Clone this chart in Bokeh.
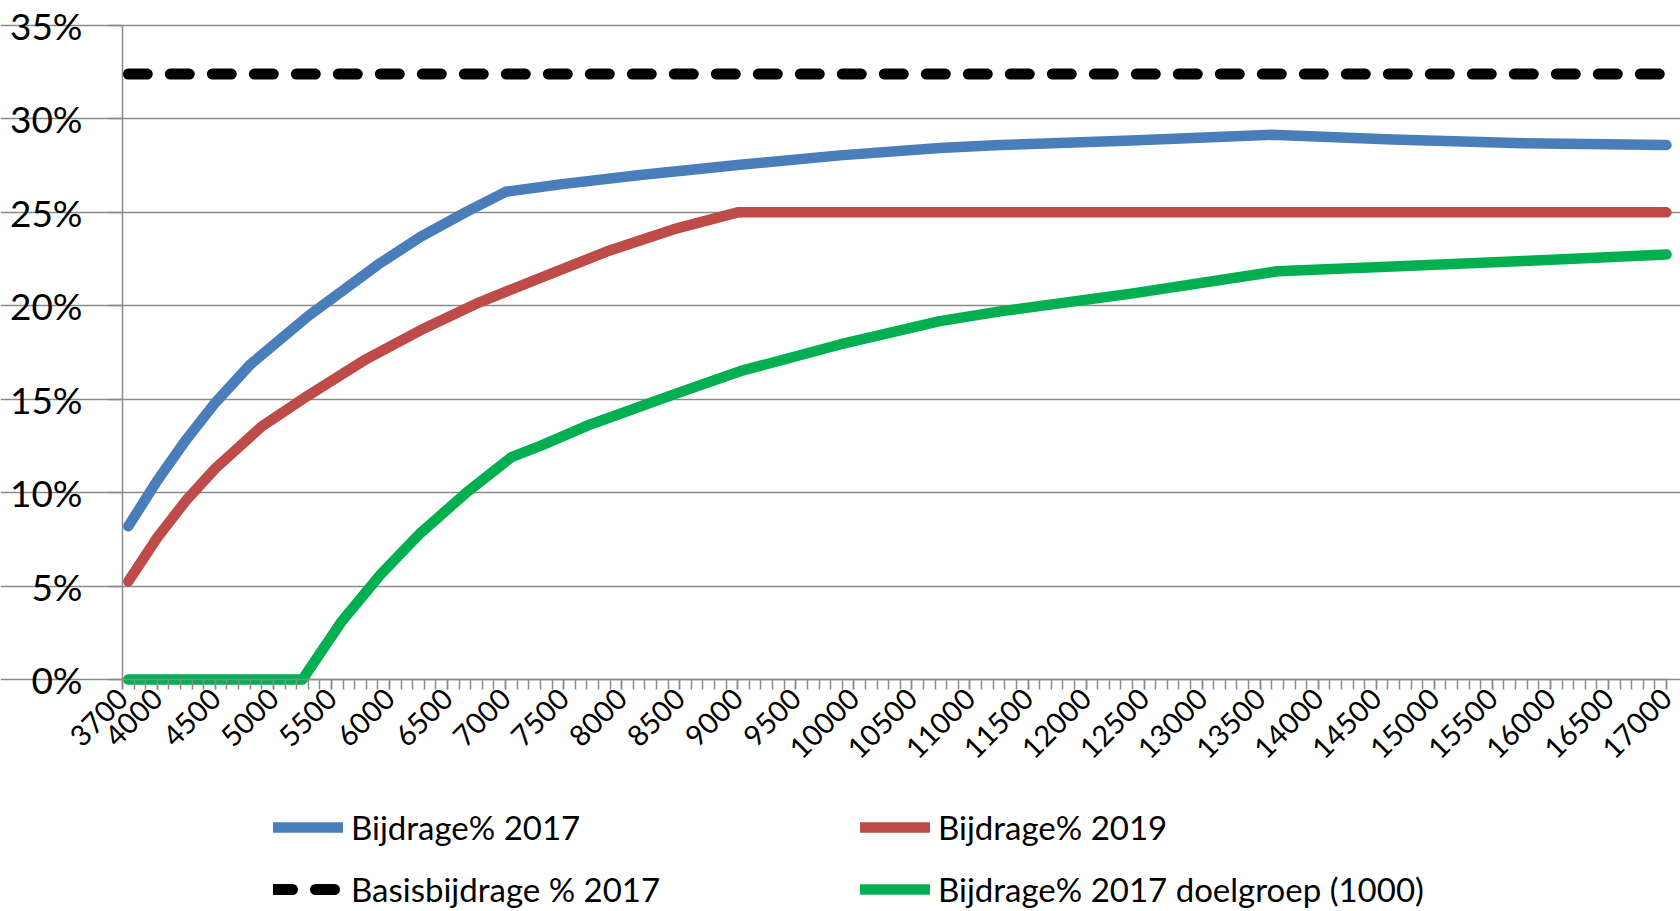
import math
from bokeh.plotting import figure
from bokeh.models import Range1d, FixedTicker, PrintfTickFormatter, Legend, LegendItem
from bokeh.embed import file_html
from bokeh.resources import INLINE

# ---- data ----
x_tick_labels = [3700] + list(range(4000, 17001, 500))
x_minor_ticks = list(range(3700, 17001, 100))
y_ticks = [0, 5, 10, 15, 20, 25, 30, 35]

x_2017 = [3750, 4000, 4250, 4500, 4800, 5300, 5900, 6270, 6670, 7000, 7470,
          8160, 9020, 9880, 10740, 11260, 12390, 13600, 14640, 15770, 17000]
y_2017 = [8.2, 10.65, 12.85, 14.82, 16.85, 19.45, 22.2, 23.7, 25.05, 26.1, 26.5,
          27.0, 27.55, 28.05, 28.45, 28.6, 28.85, 29.15, 28.9, 28.7, 28.6]

x_2019 = [3750, 4000, 4250, 4500, 4900, 5300, 5800, 6270, 6780, 7300, 7870, 8450, 9000, 17000]
y_2019 = [5.25, 7.6, 9.6, 11.3, 13.55, 15.2, 17.15, 18.7, 20.2, 21.5, 22.9, 24.1, 25.0, 25.0]

x_basis = [3750, 17000]
y_basis = [32.4, 32.4]

x_doel = [3750, 5250, 5580, 5920, 6265, 6670, 7050, 7300, 7730, 8450, 9020, 9880,
          10740, 11260, 12390, 13650, 14640, 15770, 17000]
y_doel = [0.0, 0.0, 3.04, 5.6, 7.83, 10.04, 11.9, 12.5, 13.65, 15.26, 16.5, 17.93,
          19.18, 19.7, 20.65, 21.85, 22.1, 22.4, 22.75]

names = ["Bijdrage% 2017", "Bijdrage% 2019", "Basisbijdrage % 2017", "Bijdrage% 2017 doelgroep (1000)"]

X_MIN, X_MAX = 3700, 17000
Y_MIN, Y_MAX = 0, 35

GRID = "#8a8a8a"
FONT = "Lato"

# Layout: the frame fills the whole canvas; both axes are pinned at the data
# origin so that tick labels and the legend are drawn inside the frame.
W, H = 1680, 911
PLOT_L, PLOT_R = 122, 1666      # pixel columns of X_MIN / X_MAX
PLOT_T, PLOT_B = 25, 679        # pixel rows of Y_MAX / Y_MIN
kx = (PLOT_R - PLOT_L) / (X_MAX - X_MIN)
ky = (PLOT_B - PLOT_T) / (Y_MAX - Y_MIN)
xr = Range1d(X_MIN - PLOT_L / kx, X_MAX + (W - PLOT_R) / kx)
yr = Range1d(Y_MIN - (H - PLOT_B) / ky, Y_MAX + PLOT_T / ky)

p = figure(width=W, height=H, output_backend="svg", toolbar_location=None,
           x_range=xr, y_range=yr,
           min_border_left=0, min_border_right=0, min_border_top=0, min_border_bottom=0)
p.outline_line_color = None
p.background_fill_color = "white"
p.xgrid.grid_line_color = None
p.ygrid.grid_line_color = GRID
p.ygrid.grid_line_width = 1.5
p.ygrid.ticker = FixedTicker(ticks=y_ticks)
p.ygrid.bounds = (X_MIN, X_MAX)

ya = p.yaxis[0]
ya.fixed_location = X_MIN
ya.bounds = (Y_MIN, Y_MAX)
ya.ticker = FixedTicker(ticks=y_ticks)
ya.formatter = PrintfTickFormatter(format="%d%%")
ya.axis_line_color = GRID
ya.axis_line_width = 1.5
ya.major_tick_line_color = GRID
ya.major_tick_line_width = 1.5
ya.major_tick_out = 14
ya.major_tick_in = 0
ya.minor_tick_line_color = None
ya.major_label_standoff = 26
ya.major_label_text_font = FONT
ya.major_label_text_font_size = "37px"
ya.major_label_text_color = "black"

xa = p.xaxis[0]
xa.fixed_location = Y_MIN
xa.bounds = (X_MIN, X_MAX)
xa.ticker = FixedTicker(ticks=x_tick_labels, minor_ticks=x_minor_ticks)
xa.formatter = PrintfTickFormatter(format="%d")
xa.axis_line_color = GRID
xa.axis_line_width = 1.5
xa.major_tick_line_color = GRID
xa.minor_tick_line_color = GRID
xa.major_tick_line_width = 1.5
xa.minor_tick_line_width = 1.5
xa.major_tick_out = 10
xa.minor_tick_out = 10
xa.major_tick_in = 0
xa.minor_tick_in = 0
xa.major_label_orientation = math.pi / 4
xa.major_label_standoff = 4
xa.major_label_text_font = FONT
xa.major_label_text_font_size = "29px"
xa.major_label_text_color = "black"

r_basis = p.line(x_basis, y_basis, line_color="black", line_width=11, line_dash="19 23",
                 line_cap="round")
r_2017 = p.line(x_2017, y_2017, line_color="#4A7EBB", line_width=10.5, line_cap="round", line_join="round")
r_2019 = p.line(x_2019, y_2019, line_color="#BE4B48", line_width=10.5, line_cap="round", line_join="round")
r_doel = p.line(x_doel, y_doel, line_color="#00B050", line_width=10.5, line_cap="round", line_join="round")

legend = Legend(items=[LegendItem(label=names[0], renderers=[r_2017]),
                       LegendItem(label=names[1], renderers=[r_2019]),
                       LegendItem(label=names[2], renderers=[r_basis]),
                       LegendItem(label=names[3], renderers=[r_doel])],
                location=(273, 2), orientation="horizontal", ncols=2)
legend.label_text_font = FONT
legend.label_text_font_size = "33px"
legend.label_text_color = "black"
legend.label_height = 34
legend.glyph_height = 34
legend.glyph_width = 70
legend.label_standoff = 8
legend.label_width = 487
legend.spacing = 22
legend.padding = 0
legend.margin = 0
legend.border_line_color = None
legend.background_fill_alpha = 0
p.add_layout(legend)

open("out.html", "w").write(file_html(p, INLINE))
